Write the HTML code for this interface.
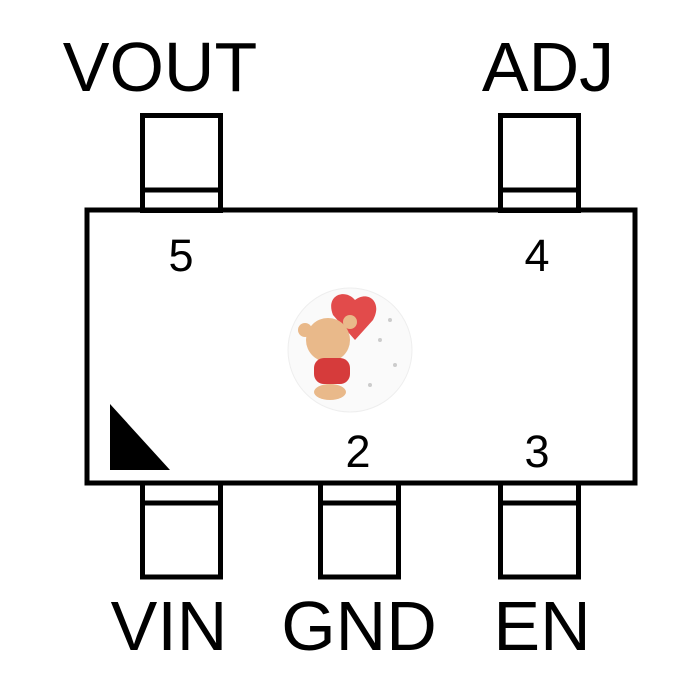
<!DOCTYPE html>
<html><head><meta charset="utf-8"><style>html,body{margin:0;padding:0;background:#fff}svg{display:block}</style></head>
<body>
<svg width="700" height="700" viewBox="0 0 700 700" xmlns="http://www.w3.org/2000/svg">
<g fill="none" stroke="#000" stroke-width="5">
<rect x="87" y="210" width="548" height="273"/>
<rect x="142.5" y="115.5" width="78" height="95"/><line x1="142" y1="190" x2="221" y2="190"/>
<rect x="500.5" y="115.5" width="78" height="95"/><line x1="500" y1="190" x2="579" y2="190"/>
<rect x="142.5" y="483" width="78" height="94"/><line x1="142" y1="503" x2="221" y2="503"/>
<rect x="320.5" y="483" width="78" height="94"/><line x1="320" y1="503" x2="399" y2="503"/>
<rect x="500.5" y="483" width="78" height="94"/><line x1="500" y1="503" x2="579" y2="503"/>
</g>
<polygon points="110,404 110,470 170,470" fill="#000"/>
<circle cx="350" cy="350" r="62" fill="#fafafa" stroke="#eee"/>
<g fill="#ccc"><circle cx="310" cy="330" r="2"/><circle cx="380" cy="340" r="2"/><circle cx="395" cy="365" r="2"/><circle cx="370" cy="385" r="2"/><circle cx="320" cy="380" r="2"/><circle cx="390" cy="320" r="2"/></g>
<path d="M355 300 c-10 -12 -30 -5 -22 15 l22 25 l18 -20 c10 -18 -5 -30 -18 -20z" fill="#e24b4b"/>
<circle cx="328" cy="340" r="22" fill="#e9b98a"/>
<circle cx="305" cy="330" r="7" fill="#e9b98a"/><circle cx="350" cy="322" r="7" fill="#e9b98a"/>
<rect x="314" y="358" width="36" height="26" rx="10" fill="#d63b3b"/>
<ellipse cx="330" cy="392" rx="16" ry="8" fill="#e9b98a"/>
<g font-family="Liberation Sans, sans-serif" fill="#000">
<text x="160" y="91" font-size="70" text-anchor="middle">VOUT</text>
<text x="548" y="91" font-size="70" text-anchor="middle">ADJ</text>
<text x="169" y="650" font-size="70" text-anchor="middle">VIN</text>
<text x="359" y="650" font-size="70" text-anchor="middle">GND</text>
<text x="542" y="650" font-size="70" text-anchor="middle">EN</text>
<text x="181" y="271" font-size="45" text-anchor="middle">5</text>
<text x="537" y="271" font-size="45" text-anchor="middle">4</text>
<text x="358" y="467" font-size="45" text-anchor="middle">2</text>
<text x="537" y="467" font-size="45" text-anchor="middle">3</text>
</g>
</svg>
</body></html>
